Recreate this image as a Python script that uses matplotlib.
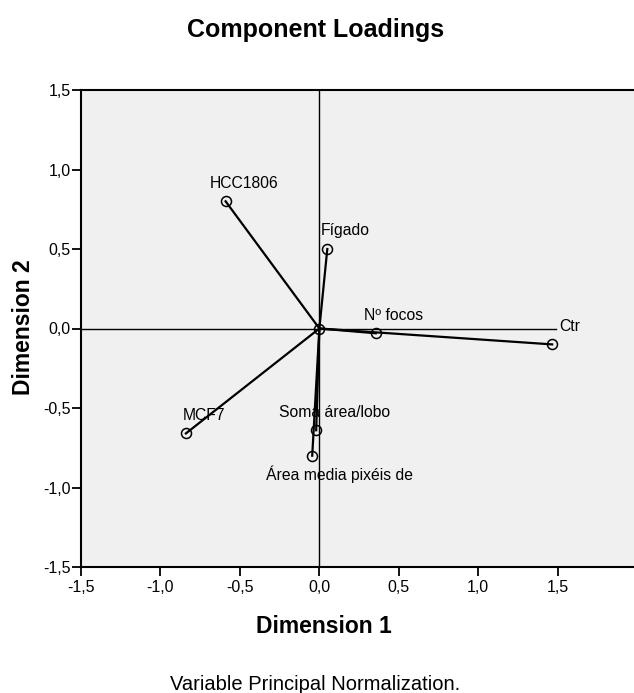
import matplotlib
matplotlib.use('Agg')
import matplotlib.pyplot as plt
from matplotlib.ticker import FixedLocator, FixedFormatter

plt.rcParams['font.family'] = ['Liberation Sans', 'DejaVu Sans']

# component loadings
variables = ['HCC1806', 'Fígado', 'Nº focos', 'Ctr', 'MCF7',
             'Soma área/lobo', 'Área media pixéis de']
dim1 = [-0.59, 0.05, 0.355, 1.465, -0.84, -0.02, -0.045]
dim2 = [0.80, 0.50, -0.03, -0.10, -0.66, -0.64, -0.80]

ticks = [-1.5, -1.0, -0.5, 0.0, 0.5, 1.0, 1.5]
tick_labels = ['-1,5', '-1,0', '-0,5', '0,0', '0,5', '1,0', '1,5']

W, H = 634, 693
fig = plt.figure(figsize=(W / 100, H / 100), dpi=100)
fig.patch.set_facecolor('white')

left, right, top, bottom = 81, 634, 90, 567
ax = fig.add_axes([left / W, 1 - bottom / H, (right - left) / W, (bottom - top) / H])
ax.set_facecolor('#f0f0f0')
ax.set_xlim(-1.5, 1.98)
ax.set_ylim(-1.5, 1.5)

# reference lines
ax.axvline(0, color='black', lw=1, zorder=1)
ax.axhline(0, xmax=(1.49 + 1.5) / 3.48, color='black', lw=1, zorder=1)

# vectors from the origin
for x, y in zip(dim1, dim2):
    ax.plot([0, x], [0, y], color='black', lw=1.6, zorder=2)
ax.plot(dim1, dim2, 'o', ms=7.2, mfc='none', mec='black', mew=1.1, zorder=3)
ax.plot([0], [0], 'o', ms=7.2, mfc='none', mec='black', mew=1.1, zorder=3)

for name, x, y in zip(variables, dim1, dim2):
    off = (20, -13) if name.startswith('Área') else (13, 13)
    ax.annotate(name, (x, y), xytext=off, textcoords='offset points',
                ha='center', va='center', fontsize=11.3, zorder=4)

ax.xaxis.set_major_locator(FixedLocator(ticks))
ax.xaxis.set_major_formatter(FixedFormatter(tick_labels))
ax.yaxis.set_major_locator(FixedLocator(ticks))
ax.yaxis.set_major_formatter(FixedFormatter(tick_labels))
ax.tick_params(direction='out', length=6.5, width=1.3, labelsize=11.5)
ax.tick_params(axis='x', pad=3)
ax.tick_params(axis='y', pad=1)

ax.spines['right'].set_visible(False)
for s in ['left', 'bottom', 'top']:
    ax.spines[s].set_linewidth(1.5)

fig.text(316 / W, 1 - 37 / H, 'Component Loadings', ha='center', va='baseline',
         fontsize=18, fontweight='bold')
fig.text(324 / W, 1 - 633 / H, 'Dimension 1', ha='center', va='baseline',
         fontsize=16.5, fontweight='bold')
fig.text(23 / W, 1 - 327 / H, 'Dimension 2', ha='center', va='center',
         rotation=90, fontsize=16.5, fontweight='bold')
fig.text(315 / W, 1 - 690 / H, 'Variable Principal Normalization.', ha='center',
         va='baseline', fontsize=14.5)

fig.savefig('out.png', dpi=100)
